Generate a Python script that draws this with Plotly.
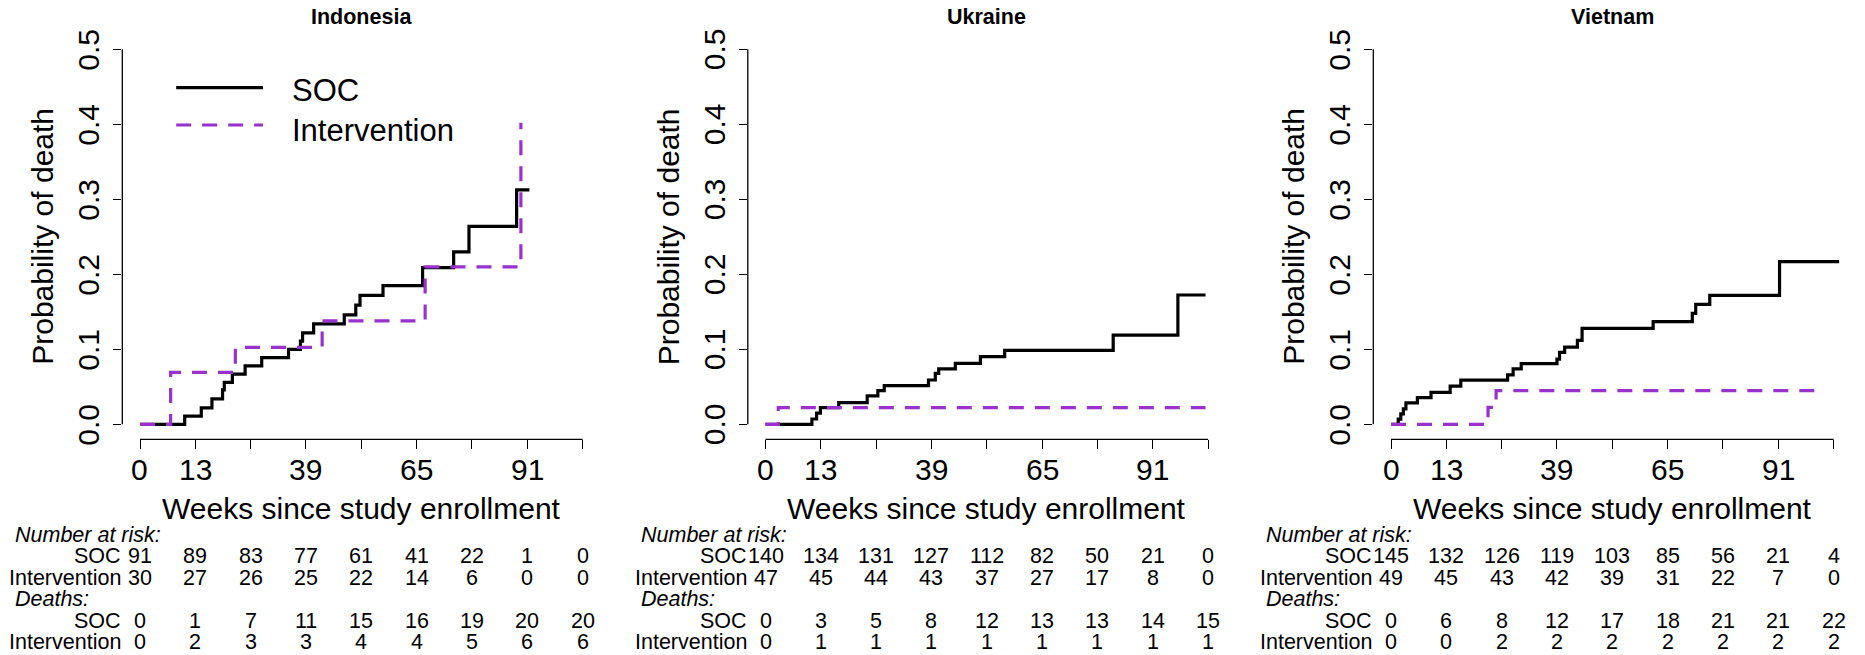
import plotly.graph_objects as go

# ---------------- data ----------------
countries = ["Indonesia", "Ukraine", "Vietnam"]

# Kaplan-Meier cumulative probability of death (weeks, probability)
idn_soc_weeks = [0, 10.5, 14.4, 16.9, 19.4, 19.8, 21.7, 24.7, 28.6, 34.9, 37.7, 38.2, 40.8,
                 48.0, 50.7, 51.7, 57.1, 66.4, 73.7, 77.3, 88.5, 91.5]
idn_soc_prob = [0, 0.011, 0.022, 0.034, 0.046, 0.056, 0.067, 0.078, 0.089, 0.100, 0.111, 0.122, 0.134,
                0.146, 0.159, 0.172, 0.185, 0.209, 0.230, 0.264, 0.3125, 0.3125]
idn_int_weeks = [0, 7.2, 22.4, 42.8, 67.0, 89.5]
idn_int_prob = [0, 0.0693, 0.1027, 0.138, 0.210, 0.402]

ukr_soc_weeks = [0, 10.9, 12.0, 12.9, 17.2, 23.9, 26.4, 27.9, 38.3, 39.9, 40.7, 44.6, 50.5,
                 56.2, 81.7, 96.9, 103.4]
ukr_soc_prob = [0, 0.0071, 0.0150, 0.0222, 0.0289, 0.0378, 0.0449, 0.0516, 0.0591, 0.068, 0.0738,
                0.0813, 0.0902, 0.0987, 0.119, 0.1724, 0.1724]
ukr_int_weeks = [0, 3.0, 103.4]
ukr_int_prob = [0, 0.0222, 0.0222]

vnm_soc_weeks = [0, 1.7, 2.3, 2.9, 3.5, 6.2, 9.4, 13.9, 16.4, 27.4, 28.7, 30.6, 39.0, 39.6,
                 40.8, 43.8, 44.9, 61.6, 70.8, 71.6, 74.9, 91.3, 105.3]
vnm_soc_prob = [0, 0.0069, 0.0138, 0.0207, 0.0285, 0.0356, 0.0427, 0.051, 0.059, 0.066, 0.074,
                0.081, 0.087, 0.096, 0.103, 0.112, 0.128, 0.137, 0.148, 0.160, 0.172, 0.217, 0.217]
vnm_int_weeks = [0, 22.8, 24.7, 101.6]
vnm_int_prob = [0, 0.0227, 0.0449, 0.0449]

# axis ticks
x_tick_vals = [0, 13, 26, 39, 52, 65, 78, 91, 104]
x_tick_text = ["0", "13", "", "39", "", "65", "", "91", ""]
y_tick_vals = [0, 0.1, 0.2, 0.3, 0.4, 0.5]
y_tick_text = ["0.0", "0.1", "0.2", "0.3", "0.4", "0.5"]

# risk table (at weeks 0, 13, ..., 104)
table_weeks = [0, 13, 26, 39, 52, 65, 78, 91, 104]
idn_risk_soc = [91, 89, 83, 77, 61, 41, 22, 1, 0]
idn_risk_int = [30, 27, 26, 25, 22, 14, 6, 0, 0]
idn_death_soc = [0, 1, 7, 11, 15, 16, 19, 20, 20]
idn_death_int = [0, 2, 3, 3, 4, 4, 5, 6, 6]
ukr_risk_soc = [140, 134, 131, 127, 112, 82, 50, 21, 0]
ukr_risk_int = [47, 45, 44, 43, 37, 27, 17, 8, 0]
ukr_death_soc = [0, 3, 5, 8, 12, 13, 13, 14, 15]
ukr_death_int = [0, 1, 1, 1, 1, 1, 1, 1, 1]
vnm_risk_soc = [145, 132, 126, 119, 103, 85, 56, 21, 4]
vnm_risk_int = [49, 45, 43, 42, 39, 31, 22, 7, 0]
vnm_death_soc = [0, 6, 8, 12, 17, 18, 21, 21, 22]
vnm_death_int = [0, 0, 2, 2, 2, 2, 2, 2, 2]

series_names = ["SOC", "Intervention"]

# ---------------- layout constants ----------------
W, H = 1865, 655
FONT = "Liberation Sans, Arial, Helvetica, sans-serif"
BLACK = "#000000"
PURPLE = "#9932CC"
panel_left = [122.3, 747.8, 1373.3]
panel_w = 478.0
plot_top, plot_bottom = 34.3, 439.3
x_range = [-4.16, 108.16]
y_range = [-0.02, 0.52]
line_w = 3.2
dash_style = "15px,11px"
TICK_FS = 30
TABLE_FS = 21.5

curves = [
    (idn_soc_weeks, idn_soc_prob, idn_int_weeks, idn_int_prob),
    (ukr_soc_weeks, ukr_soc_prob, ukr_int_weeks, ukr_int_prob),
    (vnm_soc_weeks, vnm_soc_prob, vnm_int_weeks, vnm_int_prob),
]
tables = [
    (idn_risk_soc, idn_risk_int, idn_death_soc, idn_death_int),
    (ukr_risk_soc, ukr_risk_int, ukr_death_soc, ukr_death_int),
    (vnm_risk_soc, vnm_risk_int, vnm_death_soc, vnm_death_int),
]


def px(xpix):
    return xpix / W


def py(ypix):
    return 1 - ypix / H


def font(size):
    return dict(family=FONT, size=size, color=BLACK)


fig = go.Figure()
annotations = []
shapes = []
layout_axes = {}

for k in range(3):
    n = "" if k == 0 else str(k + 1)
    xa, ya = "x" + n, "y" + n
    L = panel_left[k]
    soc_w, soc_p, int_w, int_p = curves[k]
    fig.add_trace(go.Scatter(x=soc_w, y=soc_p, mode="lines", line_shape="hv",
                             line=dict(color=BLACK, width=line_w), name=series_names[0],
                             xaxis=xa, yaxis=ya, showlegend=False))
    fig.add_trace(go.Scatter(x=int_w, y=int_p, mode="lines", line_shape="hv",
                             line=dict(color=PURPLE, width=line_w, dash=dash_style),
                             name=series_names[1], xaxis=xa, yaxis=ya, showlegend=False))

    layout_axes["xaxis" + n] = dict(
        domain=[px(L), px(L + panel_w)], range=x_range, anchor=ya,
        tickmode="array", tickvals=x_tick_vals, showticklabels=False,
        ticks="outside", ticklen=9, tickwidth=1.3, tickcolor=BLACK,
        showline=False, showgrid=False, zeroline=False, fixedrange=True)
    layout_axes["yaxis" + n] = dict(
        domain=[py(plot_bottom), py(plot_top)], range=y_range, anchor=xa,
        tickmode="array", tickvals=y_tick_vals, showticklabels=False,
        ticks="outside", ticklen=8, tickwidth=1.3, tickcolor=BLACK,
        showline=False, showgrid=False, zeroline=False, fixedrange=True)

    # R-style axis lines (from first to last tick)
    shapes.append(dict(type="line", xref=xa, yref=ya + " domain", x0=x_tick_vals[0],
                       x1=x_tick_vals[-1], y0=0, y1=0, line=dict(color=BLACK, width=1.3)))
    shapes.append(dict(type="line", xref=xa + " domain", yref=ya, x0=0, x1=0,
                       y0=y_tick_vals[0], y1=y_tick_vals[-1], line=dict(color=BLACK, width=1.3)))

    # tick labels (R style: y labels parallel to the axis, overlapping x labels dropped)
    for t, lab in zip(x_tick_vals, x_tick_text):
        if lab:
            annotations.append(dict(text=lab, x=t, y=py(469), xref=xa, yref="paper",
                                    xanchor="center", yanchor="middle", showarrow=False,
                                    font=font(TICK_FS)))
    for v, lab in zip(y_tick_vals, y_tick_text):
        annotations.append(dict(text=lab, x=px(L - 33.9), y=v, xref="paper", yref=ya,
                                xanchor="center", yanchor="middle", textangle=-90,
                                showarrow=False, font=font(TICK_FS)))

    # panel title
    annotations.append(dict(text="<b>%s</b>" % countries[k], x=px(L + panel_w / 2), y=py(17.5),
                            xref="paper", yref="paper", xanchor="center", yanchor="middle",
                            showarrow=False, font=font(21.5)))
    # axis titles
    annotations.append(dict(text="Probability of death", x=px(L - 79.3),
                            y=py((plot_top + plot_bottom) / 2),
                            xref="paper", yref="paper", xanchor="center", yanchor="middle",
                            textangle=-90, showarrow=False, font=font(30)))
    annotations.append(dict(text="Weeks since study enrollment", x=px(L + panel_w / 2), y=py(508),
                            xref="paper", yref="paper", xanchor="center", yanchor="middle",
                            height=33, showarrow=False, font=font(30)))

    # risk table
    row_y = [535.0 + 21.4 * i for i in range(6)]
    risk_soc, risk_int, death_soc, death_int = tables[k]
    headers = [(0, "<i>Number at risk:</i>"), (3, "<i>Deaths:</i>")]
    for r, txt in headers:
        annotations.append(dict(text=txt, x=px(L - 109.3), y=py(row_y[r]), xref="paper", yref="paper",
                                xanchor="left", yanchor="middle", height=19.5, showarrow=False,
                                font=font(TABLE_FS)))
    rows = [(1, series_names[0], risk_soc), (2, series_names[1], risk_int),
            (4, series_names[0], death_soc), (5, series_names[1], death_int)]
    for r, label, vals in rows:
        annotations.append(dict(text=label, x=px(L + 1), y=py(row_y[r]), xref="paper", yref="paper",
                                xanchor="right", yanchor="middle", height=19.5, showarrow=False,
                                font=font(TABLE_FS)))
        for t, v in zip(table_weeks, vals):
            annotations.append(dict(text=str(v), x=t, y=py(row_y[r]), xref=xa, yref="paper",
                                    xanchor="center", yanchor="middle", height=19.5, showarrow=False,
                                    font=font(TABLE_FS)))

# legend (first panel), drawn R-style in data coordinates of panel 1
leg_line_weeks = [8.5, 28.9]
leg_text_week = 35.2
leg_rows = [(0.4488, 0.4447, BLACK, "solid", series_names[0]),
            (0.3991, 0.3924, PURPLE, dash_style, series_names[1])]
for ly, ty, col, dash, name in leg_rows:
    shapes.append(dict(type="line", xref="x", yref="y", x0=leg_line_weeks[0], x1=leg_line_weeks[1],
                       y0=ly, y1=ly, line=dict(color=col, width=line_w, dash=dash)))
    annotations.append(dict(text=name, x=leg_text_week, y=ty, xref="x", yref="y",
                            xanchor="left", yanchor="middle", showarrow=False, font=font(31)))

fig.update_layout(
    width=W, height=H, margin=dict(l=0, r=0, t=0, b=0),
    paper_bgcolor="white", plot_bgcolor="white",
    font=dict(family=FONT, color=BLACK),
    showlegend=False, annotations=annotations, shapes=shapes,
    **layout_axes)

fig.write_html("out.html", config={"displayModeBar": False},
               post_script="document.body.style.margin='0px';document.body.style.padding='0px';"
                           "document.body.style.overflow='hidden';")
